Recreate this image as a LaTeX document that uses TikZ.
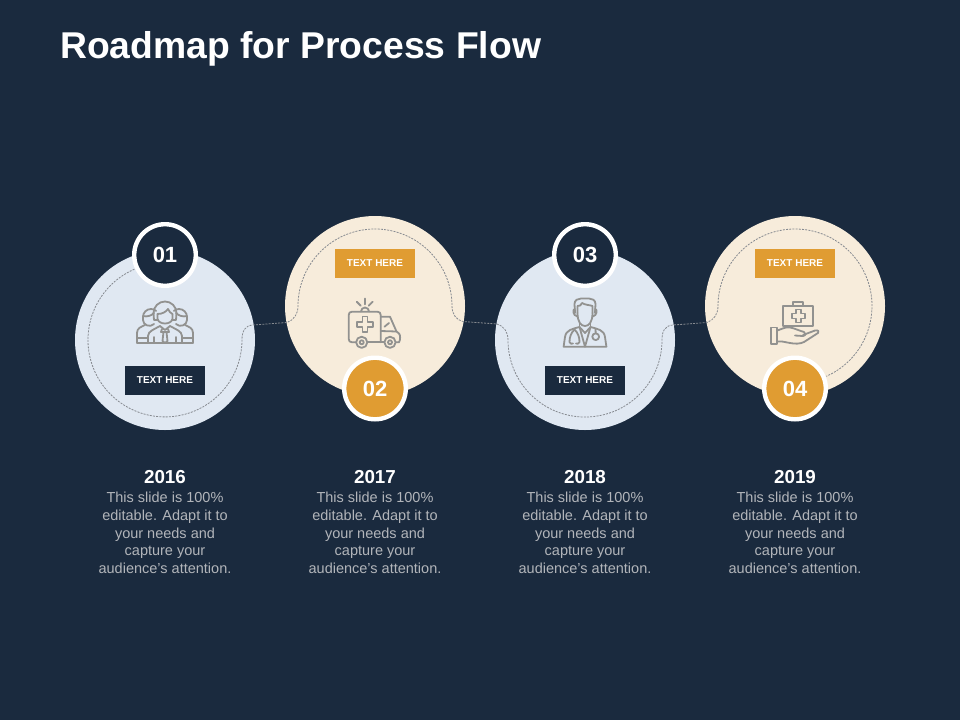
\documentclass[tikz,border=0pt]{standalone}
\usepackage{fontspec}
\setmainfont{Liberation Sans}
\definecolor{bgnavy}{HTML}{1A2A3E}
\definecolor{paleblue}{HTML}{E0E8F2}
\definecolor{cream}{HTML}{F7ECDB}
\definecolor{amber}{HTML}{E09C32}
\definecolor{icongray}{HTML}{929290}
\definecolor{dashgray}{HTML}{868A90}
\definecolor{bodygray}{HTML}{B2B5BA}
\tikzset{
  disc/.style={circle,minimum size=180pt,inner sep=0pt,fill=#1},
  badge/.style={circle,minimum size=61.6pt,inner sep=0pt,draw=white,line width=4.4pt,fill=#1,text=white,font=\bfseries\fontsize{22}{22}\selectfont},
  tagbox/.style={rectangle,minimum width=80pt,minimum height=29pt,inner sep=0pt,fill=#1,text=white,font=\bfseries\fontsize{10}{10}\selectfont},
  yearlabel/.style={text=white,font=\bfseries\fontsize{18.8}{18.8}\selectfont},
  bodytext/.style={text=bodygray,align=center,font=\fontsize{14.5}{17.8}\selectfont},
  route/.style={draw=dashgray,line width=0.8pt,dash pattern=on 2pt off 1.2pt},
  ico/.style={draw=icongray,line width=1.8pt,line join=round,line cap=round}
}
\begin{document}
\begin{tikzpicture}[x=1pt,y=-1pt]
\useasboundingbox (0,0) rectangle (960,720);
\fill[bgnavy] (0,0) rectangle (960,720);
\node[anchor=west,inner sep=0pt,text=white,font=\bfseries\fontsize{37.3}{37.3}\selectfont] (title) at (60,48.5) {Roadmap for Process Flow};
\node[disc=paleblue] (c1) at (165,340) {};
\node[disc=cream] (c2) at (375,306) {};
\node[disc=paleblue] (c3) at (585,340) {};
\node[disc=cream] (c4) at (795,306) {};
% dashed route
\coordinate (r1) at (137.4,268);
\coordinate (r3) at (253,325);
\coordinate (r4) at (287,322.5);
\coordinate (r5) at (298,306);
\coordinate (r7) at (463,321.5);
\coordinate (r8) at (497,324);
\coordinate (r9) at (508,340);
\coordinate (r11) at (673,325);
\coordinate (r12) at (707,322.5);
\coordinate (r13) at (718,306);
\draw[route] (r1) arc[start angle=111,end angle=360,radius=77pt]
  .. controls (242,331) and (245,325.5) .. (r3) -- (r4)
  .. controls (294,320) and (298,314) .. (r5)
  arc[start angle=180,end angle=0,radius=77pt]
  .. controls (452,314) and (456,320) .. (r7) -- (r8)
  .. controls (504,326) and (508,332) .. (r9)
  arc[start angle=180,end angle=360,radius=77pt]
  .. controls (662,331) and (665,325.5) .. (r11) -- (r12)
  .. controls (714,320) and (718,314) .. (r13)
  arc[start angle=180,end angle=-66,radius=77pt];
\node[badge=bgnavy] (b1) at (165,255) {01};
\node[badge=amber] (b2) at (375,388.5) {02};
\node[badge=bgnavy] (b3) at (585,255) {03};
\node[badge=amber] (b4) at (795,388.5) {04};
\node[tagbox=bgnavy] (t1) at (165,380.5) {TEXT HERE};
\node[tagbox=amber] (t2) at (375,263.5) {TEXT HERE};
\node[tagbox=bgnavy] (t3) at (585,380.5) {TEXT HERE};
\node[tagbox=amber] (t4) at (795,263.5) {TEXT HERE};
\foreach \n/\x/\y in {1/165/2016,2/375/2017,3/585/2018,4/795/2019}{
  \node[yearlabel] (y\n) at (\x,477) {\y};
  \node[bodytext,anchor=north] (d\n) at (\x,488.5) {This slide is 100\%\\editable. Adapt it to\\your needs and\\capture your\\audience's attention.};
}
% people icon
\begin{scope}[shift={(165,320)},ico]
 % side figures
 \draw (-28,22.8) -- (-28,13) .. controls (-28,8) and (-24,7) .. (-20,5);
 \draw (28,22.8) -- (28,13) .. controls (28,8) and (24,7) .. (20,5);
 \draw (-28,18) -- (-17,18); \draw (28,18) -- (17,18);
 \draw (-22,-3) arc[start angle=180,end angle=50,radius=8pt];
 \draw (-22,-3) -- (-22,0) .. controls (-22,5) and (-15,8) .. (-11,4);
 \draw (-22,-4) .. controls (-18,-3) and (-14,-4) .. (-11,-7);
 \draw (22,-3) arc[start angle=0,end angle=130,radius=8pt];
 \draw (22,-3) -- (22,0) .. controls (22,5) and (15,8) .. (11,4);
 \draw (22,-4) .. controls (18,-3) and (14,-4) .. (11,-7);
 % centre figure
 \draw (-11.5,-7) arc[start angle=180,end angle=0,radius=11.5pt];
 \draw (-11.5,-7) -- (-11,0) -- (-7,0); \draw (11.5,-7) -- (11,0) -- (7,0);
 \draw (-7.5,-6) .. controls (-3,-6) and (1,-8) .. (3,-11) .. controls (4,-8) and (6,-7) .. (7.5,-6);
 \draw (-7.5,-6) -- (-7.5,-1) .. controls (-6,5) and (6,5) .. (7.5,-1) -- (7.5,-6);
 \draw (-17,23) -- (-17,16) .. controls (-17,11) and (-10,9) .. (-5,6);
 \draw (17,23) -- (17,16) .. controls (17,11) and (10,9) .. (5,6);
 \draw (-28,23.3) -- (28,23.3);
 \draw (-11,23) -- (-11,17); \draw (11,23) -- (11,17);
 \draw (-5,6) -- (0,10) -- (5,6);
 \draw (-3,9) -- (-4,12) -- (4,12) -- (3,9);
 \draw (-1.5,12) -- (-2.5,21) -- (0,23) -- (2.5,21) -- (1.5,12);
\end{scope}
% ambulance icon
\begin{scope}[ico]
 \draw (356,342.3) -- (352,342.3) .. controls (350,342.3) and (348.7,341) .. (348.7,339) -- (348.7,315) .. controls (348.7,313) and (350,311.7) .. (352,311.7) -- (377.5,311.7) .. controls (379.5,311.7) and (380.7,313) .. (380.7,315) -- (380.7,342.3);
 \draw (367.5,342.3) -- (384,342.3);
 \draw (380.7,316.7) -- (390,316.7) -- (396.5,331.5) -- (399,333.5) .. controls (400.5,335) and (400.5,340) .. (399,342.3) -- (396,342.3);
 \draw (380.7,331) -- (396.5,331.5);
 \draw (384.5,326.7) -- (389,323);
 \draw (361.7,342.3) circle[radius=5.6pt];
 \draw (361.7,342.3) circle[radius=2pt];
 \draw (390,342.3) circle[radius=5.6pt];
 \draw (390,342.3) circle[radius=2pt];
 \draw (362.5,316.5) -- (367.5,316.5) -- (367.5,321.8) -- (372.8,321.8) -- (372.8,326.8) -- (367.5,326.8) -- (367.5,332) -- (362.5,332) -- (362.5,326.8) -- (357.2,326.8) -- (357.2,321.8) -- (362.5,321.8) -- cycle;
 \draw (361,311.5) arc[start angle=180,end angle=0,radius=4pt];
 \draw (364.6,298.5) -- (364.6,304.3);
 \draw (356.7,301.7) -- (360.7,305.7);
 \draw (372.7,301.7) -- (368.7,305.7);
\end{scope}
% doctor icon
\begin{scope}[ico]
 \draw (575,313) -- (574.5,304) .. controls (574.5,300) and (578,298.5) .. (581,298.5) -- (589,298.5) .. controls (592,298.5) and (595.5,300) .. (595.5,304) -- (595,313);
 \draw (577.5,313) -- (577.5,306) .. controls (580,306.5) and (581,305) .. (582,303) .. controls (585,305) and (590,305) .. (592.5,306) -- (592.5,313);
 \draw (577.5,313) .. controls (577.5,322) and (581,326) .. (585,326) .. controls (589,326) and (592.5,322) .. (592.5,313);
 \draw (575,309) .. controls (572,309) and (573,316) .. (577.5,316.5);
 \draw (595,309) .. controls (598,309) and (597,316) .. (592.5,316.5);
 \draw (579.5,323) -- (579.5,327);
 \draw (590.5,323) -- (590.5,327);
 \draw (579.5,327) .. controls (572,329) and (566,330) .. (565,337) -- (563.6,346.7) -- (606.4,346.7) -- (605,337) .. controls (604,330) and (598,329) .. (590.5,327);
 \draw (579.5,327) -- (585,346.7) -- (590.5,327);
 \draw (579.5,327) -- (585,333) -- (590.5,327);
 \draw (574.5,329.5) .. controls (571,333) and (569.5,337) .. (569.5,342) .. controls (570,344) and (572,344) .. (573,343.5);
 \draw (574.5,329.5) .. controls (578,333) and (579.5,337) .. (579.5,342) .. controls (579,344) and (577,344) .. (576,343.5);
 \draw (595.7,336.7) circle[radius=3.4pt];
 \draw (595.7,333.3) -- (595.5,329);
\end{scope}
% kit and hand icon
\begin{scope}[ico]
 \draw (783.3,305.7) rectangle (813.3,325.7);
 \draw (793.3,305.7) -- (793.3,301.7) -- (803.3,301.7) -- (803.3,305.7);
 \draw (796,309.5) -- (801,309.5) -- (801,313.5) -- (805,313.5) -- (805,318.5) -- (801,318.5) -- (801,322.5) -- (796,322.5) -- (796,318.5) -- (792,318.5) -- (792,313.5) -- (796,313.5) -- cycle;
 \draw (770.7,327.5) rectangle (777.3,344);
 \draw (777.3,330.5) .. controls (782,329) and (786,326.5) .. (790,327.5) .. controls (794,328) and (800,331) .. (804,332) .. controls (806,333) and (806,335.5) .. (803,336) -- (795,335.5);
 \draw (803,335) -- (815,330.5) .. controls (818,329.8) and (820,331.5) .. (818,333) -- (804,342) .. controls (800,344) and (795,344) .. (790,343) -- (782,341.5) -- (777.3,341.5);
\end{scope}
\end{tikzpicture}
\end{document}
